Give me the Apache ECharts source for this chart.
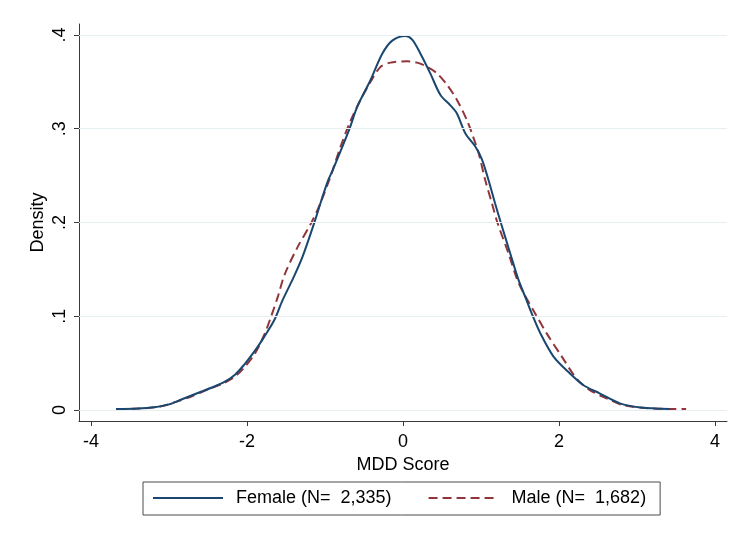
<!DOCTYPE html>
<html>
<head>
<meta charset="utf-8">
<script src="https://cdn.jsdelivr.net/npm/echarts@6/dist/echarts.min.js"></script>
<style>html,body{margin:0;padding:0;background:#fff}#c{width:735px;height:542px}</style>
</head>
<body>
<div id="c"></div>
<script>
// ---- data ----
const femaleX = [-3.68,-3.4,-3.19,-3.0,-2.85,-2.59,-2.45,-2.29,-2.15,-2.04,-1.9,-1.78,-1.65,-1.545,-1.4,-1.29,-1.14,-1.03,-0.96,-0.9,-0.84,-0.69,-0.586,-0.416,-0.266,-0.138,0.032,0.118,0.224,0.35,0.48,0.607,0.69,0.80,0.927,1.013,1.097,1.18,1.27,1.375,1.48,1.58,1.65,1.76,1.93,2.14,2.31,2.52,2.78,3.04,3.42];
const femaleY = [0.001,0.0015,0.003,0.006,0.011,0.0195,0.024,0.030,0.038,0.048,0.063,0.078,0.096,0.117,0.142,0.163,0.199,0.228,0.245,0.256,0.268,0.299,0.3235,0.352,0.380,0.394,0.399,0.395,0.380,0.359,0.336,0.325,0.3165,0.295,0.281,0.267,0.245,0.2205,0.1955,0.167,0.139,0.118,0.103,0.082,0.057,0.039,0.0267,0.0178,0.0071,0.0028,0.0012];
const maleX = [-3.66,-3.3,-3.1,-2.9,-2.7,-2.5,-2.29,-2.15,-2.04,-1.9,-1.78,-1.69,-1.6,-1.52,-1.35,-1.18,-1.077,-0.93,-0.80,-0.67,-0.543,-0.416,-0.288,-0.16,0.054,0.18,0.31,0.437,0.565,0.69,0.82,0.905,0.97,1.055,1.14,1.21,1.353,1.46,1.545,1.694,1.84,2.036,2.23,2.40,2.61,2.82,3.12,3.4,3.63];
const maleY = [0.001,0.002,0.004,0.009,0.015,0.022,0.029,0.036,0.045,0.060,0.080,0.100,0.122,0.144,0.174,0.199,0.217,0.249,0.281,0.309,0.331,0.350,0.366,0.3705,0.372,0.3705,0.366,0.359,0.3467,0.331,0.309,0.290,0.274,0.245,0.2205,0.200,0.167,0.140,0.125,0.103,0.082,0.057,0.033,0.021,0.0125,0.0053,0.0021,0.0012,0.001];
const xTicks = [-4,-2,0,2,4];
const yTicks = [0,0.1,0.2,0.3,0.4];
const seriesNames = ['Female (N=  2,335)','Male (N=  1,682)'];
// ----------------------------------------------

const zip = (xs, ys) => xs.map((x, i) => [x, ys[i]]);
const FONT = 'Liberation Sans, Arial, sans-serif';
const chart = echarts.init(document.getElementById('c'), null, {renderer: 'canvas'});
chart.setOption({
  animation: false,
  backgroundColor: '#ffffff',
  textStyle: {fontFamily: FONT, color: '#000'},
  grid: {left: 79, right: 8, top: 24, bottom: 121},
  xAxis: {
    type: 'value', min: -4.154, max: 4.154,
    name: 'MDD Score', nameLocation: 'middle', nameGap: 32,
    nameTextStyle: {fontSize: 18, color: '#000', fontFamily: FONT},
    axisLine: {show: true, onZero: false, lineStyle: {color: '#3a3a3a', width: 1}},
    axisTick: {show: true, length: 5, customValues: xTicks, lineStyle: {color: '#3a3a3a'}},
    axisLabel: {customValues: xTicks, fontSize: 18, color: '#000', margin: 12, fontFamily: FONT},
    splitLine: {show: false}
  },
  yAxis: {
    type: 'value', min: -0.0117, max: 0.4117,
    name: 'Density', nameLocation: 'middle', nameGap: 32, nameRotate: 90,
    nameMoveOverlap: false,
    nameTextStyle: {fontSize: 18, color: '#000', fontFamily: FONT},
    axisLine: {show: true, onZero: false, lineStyle: {color: '#3a3a3a', width: 1}},
    axisTick: {show: true, length: 5, customValues: yTicks, lineStyle: {color: '#3a3a3a'}},
    axisLabel: {
      customValues: yTicks, rotate: 90, fontSize: 18, color: '#000', margin: 10, fontFamily: FONT,
      formatter: v => (Math.abs(v) < 1e-9 ? '0' : ('.' + Math.round(v * 10)))
    },
    splitLine: {show: false}
  },
  legend: {
    left: 143, top: 482, orient: 'horizontal',
    itemWidth: 70, itemHeight: 20, itemGap: 36,
    padding: [7, 14, 8, 9],
    borderColor: '#4a4a4a', borderWidth: 1, borderRadius: 0,
    itemStyle: {color: 'transparent', borderWidth: 0, opacity: 0},
    textStyle: {fontSize: 18, color: '#000', fontFamily: FONT, padding: [0, 0, 0, 8]},
    data: seriesNames
  },
  series: [
    {
      type: 'line', name: 'grid', data: [], z: 0, silent: true,
      markLine: {
        silent: true, symbol: 'none', label: {show: false},
        lineStyle: {color: '#e6eef1', width: 1.2, type: 'solid'},
        data: yTicks.map(v => ({yAxis: v}))
      }
    },
    {
      type: 'line', name: seriesNames[0], data: zip(femaleX, femaleY),
      showSymbol: false, symbol: 'none', smooth: 0.3, z: 3,
      lineStyle: {color: '#1a476f', width: 2},
      itemStyle: {color: '#1a476f'}
    },
    {
      type: 'line', name: seriesNames[1], data: zip(maleX, maleY),
      showSymbol: false, symbol: 'none', smooth: 0.3, z: 2,
      lineStyle: {color: '#90353b', width: 2, type: [9, 5]},
      itemStyle: {color: '#90353b'}
    }
  ]
});
</script>
</body>
</html>
